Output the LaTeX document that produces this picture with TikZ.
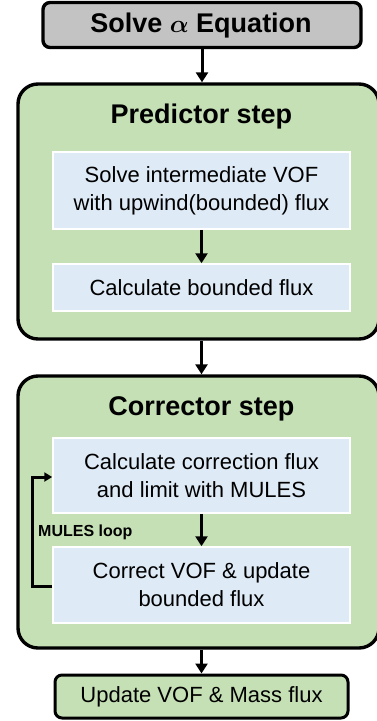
\documentclass[tikz,border=0pt]{standalone}
\usepackage{fontspec}
\setmainfont{Liberation Sans}
\usetikzlibrary{arrows.meta}
\definecolor{grayfill}{HTML}{C3C3C3}
\definecolor{greenfill}{HTML}{C5E0B4}
\definecolor{bluefill}{HTML}{DEEAF6}
\tikzset{
  outerbox/.style={draw=black, line width=3.4pt, fill=greenfill, rounded corners=20pt, inner sep=0pt},
  topbox/.style={draw=black, line width=3.4pt, fill=grayfill, rounded corners=7pt, inner sep=0pt},
  endbox/.style={draw=black, line width=3pt, fill=greenfill, rounded corners=7pt, inner sep=0pt},
  innerbox/.style={draw=white, line width=1.5pt, fill=bluefill, inner sep=0pt, align=center, font=\fontsize{22}{28}\selectfont},
  titletext/.style={font=\fontsize{27}{32}\selectfont\bfseries},
  flow/.style={-{Triangle[length=10pt,width=12pt]}, line width=3pt},
  loop/.style={-{Triangle[length=8pt,width=9pt]}, line width=3pt}
}
\begin{document}
\begin{tikzpicture}[x=1pt,y=-1pt]
\useasboundingbox[fill=white] (0,0) rectangle (377,721);
% outer boxes
\node[topbox, minimum width=318pt, minimum height=45pt] (solve) at (202,25) {};
\node[titletext] (solvet) at (201,26) {Solve {\fontsize{31}{32}\selectfont\boldmath$\alpha$} Equation};
\node[outerbox, minimum width=361pt, minimum height=255pt] (pred) at (198.5,211.5) {};
\node[titletext] (predt) at (201.5,117) {Predictor step};
\node[innerbox, minimum width=297pt, minimum height=77pt] (b1) at (201.5,190.5) {Solve intermediate VOF\\with upwind(bounded) flux};
\node[innerbox, minimum width=297pt, minimum height=47pt] (b2) at (201.5,287.5) {Calculate bounded flux};
\node[outerbox, minimum width=361pt, minimum height=272pt] (corr) at (198.5,512) {};
\node[titletext] (corrt) at (201.5,409) {Corrector step};
\node[innerbox, minimum width=297pt, minimum height=75pt] (b3) at (201.5,475.5) {Calculate correction flux\\and limit with MULES};
\node[innerbox, minimum width=297pt, minimum height=76pt] (b4) at (201.5,585) {Correct VOF \& update\\bounded flux};
\node[endbox, minimum width=293pt, minimum height=43pt, font=\fontsize{22}{28}\selectfont] (fin) at (201.5,696.5) {Update VOF \& Mass flux};
\node[anchor=west, font=\fontsize{16}{18}\selectfont\bfseries, inner sep=0pt] (ml) at (38,532) {MULES loop};
% connectors
\draw[flow] (solve.south) -- (pred.north -| solve.south);
\draw[flow] (b1.south) -- (b2.north);
\draw[flow] (pred.south -| b2.south) -- (corr.north -| b2.south);
\draw[flow] (b3.south) -- (b4.north);
\draw[flow] (corr.south -| b4.south) -- (fin.north);
\coordinate (lb) at (32,586);
\coordinate (lt) at (32,477);
\draw[loop, line join=miter] (b4.west |- lb) -- (lb) -- (lt) -- (b3.west |- lt);
\end{tikzpicture}
\end{document}
